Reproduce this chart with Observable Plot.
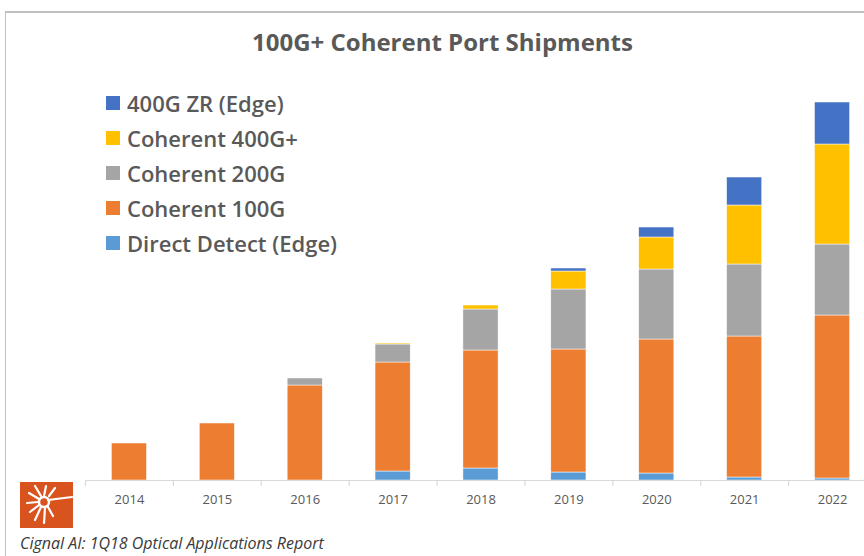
<!DOCTYPE html>
<html><head><meta charset="utf-8">
<script src="https://cdn.jsdelivr.net/npm/d3@7"></script>
<script src="https://cdn.jsdelivr.net/npm/@observablehq/plot@0.6"></script>
<style>
body{margin:0;background:#fff;}
#wrap{position:relative;width:864px;height:556px;overflow:hidden;font-family:"Open Sans",sans-serif;background:#fff;}
#chart{position:absolute;left:0;top:0;}
#frame{position:absolute;left:5px;top:11px;width:900px;height:600px;border-left:1px solid #c0c0c0;border-top:2px solid #c0c0c0;box-sizing:border-box;}
#title{position:absolute;top:25px;left:252px;white-space:nowrap;font-size:24px;font-weight:700;color:#595959;}
#legend{position:absolute;left:106px;top:85px;}
.li{display:flex;align-items:center;height:35px;font-size:22px;font-weight:600;color:#595959;white-space:nowrap;}
.sw{width:14px;height:14px;margin-right:7px;flex:none;}
#caption{position:absolute;left:20px;top:532px;font-size:16px;font-style:italic;color:#3a3a3a;white-space:nowrap;}
#logo{position:absolute;left:20px;top:482px;}
</style></head>
<body>
<div id="wrap">
  <div id="frame"></div>
  <div id="chart"></div>
  <div id="title"></div>
  <div id="legend"></div>
  <svg id="logo" width="53" height="46" viewBox="0 0 53 46">
    <rect width="53" height="46" fill="#D9531E"/>
    <g stroke="#fff" stroke-width="2.2" stroke-linecap="round">
      <line x1="28" y1="18" x2="52" y2="15"/>
      <line x1="24" y1="14" x2="26" y2="4"/>
      <line x1="21" y1="14" x2="15" y2="4"/>
      <line x1="29" y1="14" x2="35" y2="6"/>
      <line x1="19" y1="17" x2="9" y2="11"/>
      <line x1="18" y1="20" x2="7" y2="21"/>
      <line x1="19" y1="23" x2="10" y2="30"/>
      <line x1="21" y1="25" x2="15" y2="38"/>
      <line x1="25" y1="26" x2="24" y2="41"/>
      <line x1="28" y1="25" x2="33" y2="34"/>
    </g>
    <circle cx="24" cy="20" r="5" fill="none" stroke="#fff" stroke-width="2.5"/>
  </svg>
  <div id="caption"></div>
</div>
<script>
const titleText = "100G+ Coherent Port Shipments";
const captionText = "Cignal AI: 1Q18 Optical Applications Report";
const years = ["2014","2015","2016","2017","2018","2019","2020","2021","2022"];
// series listed bottom of stack first
const seriesNames = ["Direct Detect (Edge)","Coherent 100G","Coherent 200G","Coherent 400G+","400G ZR (Edge)"];
const seriesColors = ["#5B9BD5","#ED7D31","#A5A5A5","#FFC000","#4472C4"];
const directDetect = [0,0,0,9,12,8,7,3,2];
const coherent100 = [37,57,95,109,118,123,134,141,163];
const coherent200 = [0,0,7,18,41,60,70,72,71];
const coherent400 = [0,0,0,1,4,18,32,59,100];
const zr400 = [0,0,0,0,0,3,10,28,42];
const seriesValues = [directDetect, coherent100, coherent200, coherent400, zr400];

const rows = years.flatMap((yr, i) => seriesNames.map((s, j) => ({year: yr, series: s, value: seriesValues[j][i]})));

const xRange = [85, 876];
const step = (xRange[1] - xRange[0]) / years.length;

const chart = Plot.plot({
  width: 864, height: 556,
  marginTop: 80, marginBottom: 76, marginLeft: 85, marginRight: 0,
  style: {fontFamily: "Open Sans, sans-serif", background: "transparent"},
  x: {domain: years, range: xRange, paddingInner: 0.6, paddingOuter: 0.3, round: false, label: null},
  y: {domain: [0, 400], axis: null},
  color: {domain: seriesNames, range: seriesColors},
  marks: [
    Plot.barY(rows, {x: "year", y: "value", fill: "series", stroke: "#fff", strokeWidth: 0.5}),
    Plot.ruleY([0], {stroke: "#d9d9d9", strokeWidth: 1.2}),
    Plot.ruleX(years, {x: d => d, dx: -step / 2, y1: 0, y2: -6, stroke: "#d9d9d9", strokeWidth: 1.2}),
    Plot.axisX({tickSize: 0, tickPadding: 14, fontSize: 13, fill: "#595959", label: null})
  ]
});
document.getElementById("chart").appendChild(chart);
document.getElementById("title").textContent = titleText;
document.getElementById("caption").textContent = captionText;

const legend = document.getElementById("legend");
[...seriesNames].reverse().forEach((s) => {
  const i = seriesNames.indexOf(s);
  const d = document.createElement("div");
  d.className = "li";
  d.innerHTML = `<span class="sw" style="background:${seriesColors[i]}"></span><span></span>`;
  d.lastChild.textContent = s;
  legend.appendChild(d);
});
</script>
</body></html>
